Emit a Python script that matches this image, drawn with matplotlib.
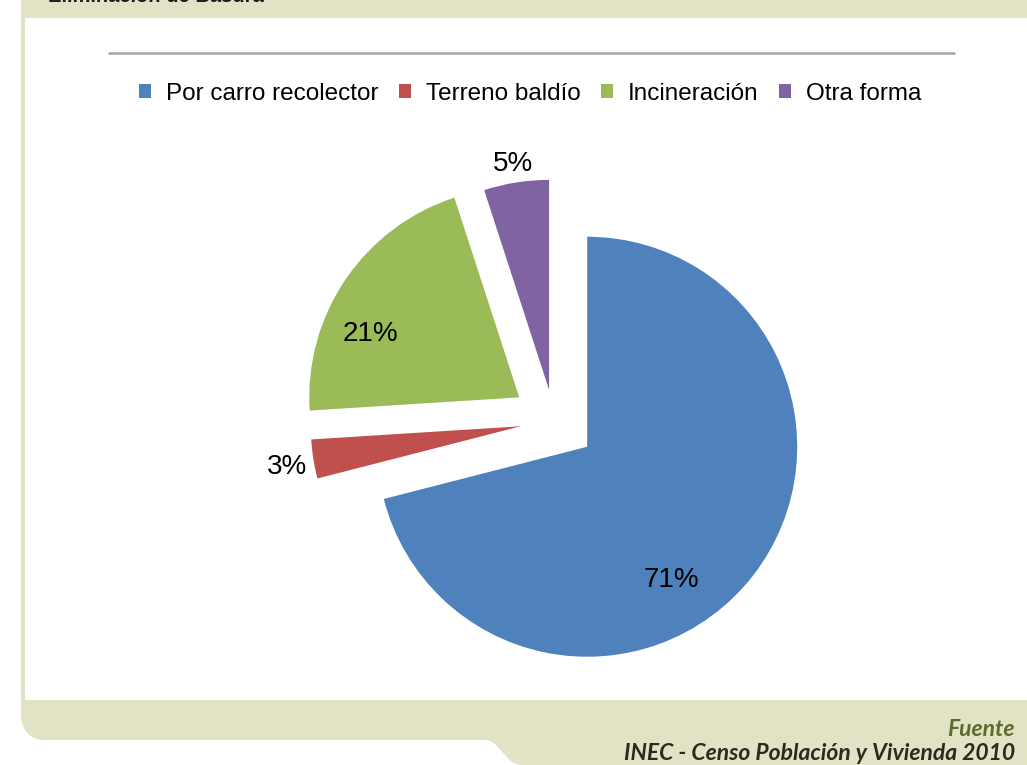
import numpy as np
import matplotlib
matplotlib.use("Agg")
import matplotlib.pyplot as plt
from matplotlib.patches import Rectangle, PathPatch, Patch
from matplotlib.path import Path
from matplotlib import font_manager

# --- data ---
categories = ["Por carro recolector", "Terreno baldío", "Incineración", "Otra forma"]
values = [71, 3, 21, 5]
colors = ["#4F81BD", "#C0504D", "#9BBB59", "#8064A2"]
explode = [0.2, 0.16, 0.2, 0.15]

title_text = "Eliminación de Basura"
source_head = "Fuente"
source_text = "INEC - Censo Población y Vivienda 2010"

# --- canvas in pixel units ---
W, H = 1027, 765
BEIGE = "#E2E3C4"


def Y(y):
    # image rows (top-down) -> axes units (bottom-up)
    return H - y


try:
    font_manager.findfont("Liberation Sans Narrow", fallback_to_default=False)
    legend_family, legend_size = "Liberation Sans Narrow", 20.5
except ValueError:
    legend_family, legend_size = "Liberation Sans", 17.5

fig = plt.figure(figsize=(W / 100, H / 100), dpi=100)
ax = fig.add_axes([0, 0, 1, 1])

# --- frame decorations ---
ax.add_patch(Rectangle((21, Y(18)), W - 21, 18, color=BEIGE, lw=0, zorder=0))
ax.add_patch(Rectangle((21, Y(700)), 4, 682, color=BEIGE, lw=0, zorder=0))
verts = [(21, Y(700)), (W, Y(700)), (W, Y(765)), (522, Y(765)),
         (505, Y(765)), (500, Y(740)), (485, Y(740)),
         (45, Y(740)),
         (21, Y(740)), (21, Y(716)), (21, Y(716)),
         (21, Y(700))]
codes = [Path.MOVETO, Path.LINETO, Path.LINETO, Path.LINETO,
         Path.CURVE4, Path.CURVE4, Path.CURVE4,
         Path.LINETO,
         Path.CURVE4, Path.CURVE4, Path.CURVE4,
         Path.CLOSEPOLY]
ax.add_patch(PathPatch(Path(verts, codes), facecolor=BEIGE, lw=0, zorder=0))

# title of the panel, cut by the top edge as in the source picture
ax.text(48, Y(2), title_text, fontsize=14.5, fontweight="bold", color="#1a1a1a",
        family="Liberation Sans", va="baseline", ha="left")

ax.plot([108, 955], [Y(53), Y(53)], color="#A6A6A6", lw=1.8, solid_capstyle="butt")

# --- pie ---
R = 210
wedges, _ = ax.pie(values, colors=colors, explode=[e * R for e in explode],
                   startangle=90, counterclock=False, radius=R,
                   center=(554, Y(421)), wedgeprops=dict(linewidth=0))

label_dist = [0.75, 1.13, 0.77, 1.09]
label_turn = [-20, 1, 11, 0]
for w, v, d, t in zip(wedges, values, label_dist, label_turn):
    a = np.deg2rad((w.theta1 + w.theta2) / 2 + t)
    cx, cy = w.center
    ax.text(cx + d * R * np.cos(a), cy + d * R * np.sin(a), f"{v}%",
            ha="center", va="center", fontsize=20, family="Liberation Sans",
            color="black")

ax.set_xlim(0, W)
ax.set_ylim(0, H)
ax.set_aspect("auto")
ax.axis("off")

handles = [Patch(facecolor=c, edgecolor="none") for c in colors]
fig.legend(handles, categories, loc="center", bbox_to_anchor=(530 / W, Y(94) / H),
           ncol=4, frameon=False, handlelength=0.5, handleheight=0.5,
           handletextpad=0.6, columnspacing=0.85,
           prop=dict(family=legend_family, size=legend_size))

# --- source ---
ax.text(1015, Y(729), source_head, ha="right", va="center", fontsize=16.5,
        family="Lato", style="italic", fontweight="bold", color="#5D6B2F")
ax.text(1015, Y(753), source_text, ha="right", va="center", fontsize=16.5,
        family="Lato", style="italic", fontweight="bold", color="#2A2A20")

fig.savefig("out.png", dpi=100)
